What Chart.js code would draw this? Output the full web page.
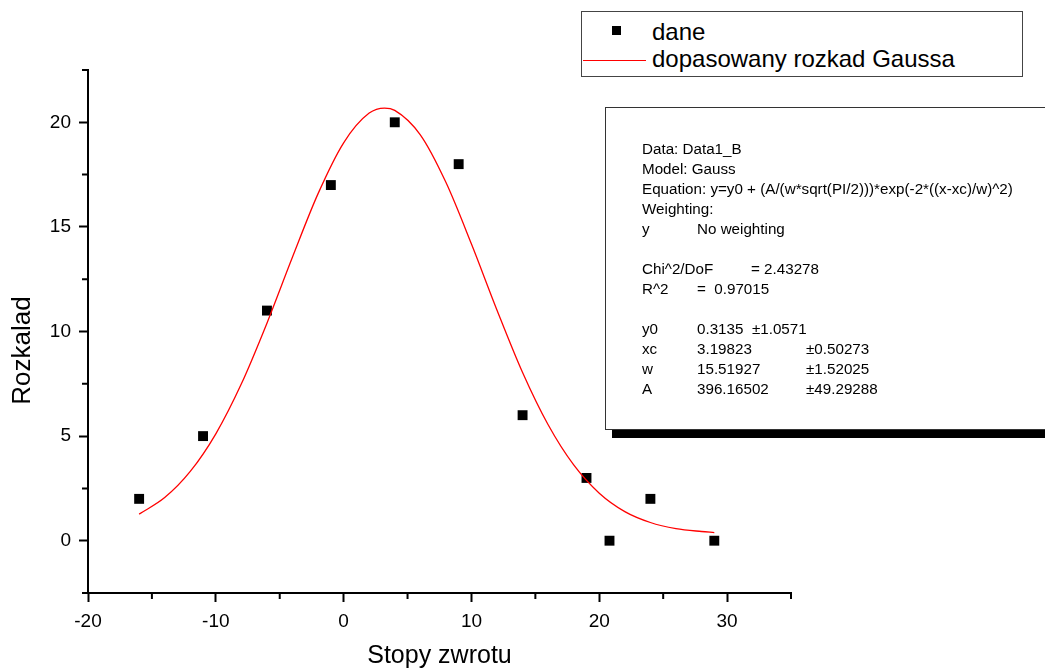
<!DOCTYPE html>
<html lang="pl">
<head>
<meta charset="utf-8">
<title>Rozkalad - dopasowany rozkad Gaussa</title>
<script src="https://cdn.jsdelivr.net/npm/chart.js@4.4.1/dist/chart.umd.min.js"></script>
<style>
    body { margin: 0; background: #fff; overflow: hidden; font-family: "Liberation Sans", Arial, sans-serif; }
    #wrap { position: relative; width: 1045px; height: 671px; overflow: hidden; }
    #wykres { position: absolute; left: 0; top: 0; }

    .legenda { position: absolute; left: 581px; top: 11px; width: 442px; height: 66px; box-sizing: border-box; border: 1.5px solid #444; background: #fff; }
    .legenda .znak { position: absolute; left: 30px; top: 14px; width: 9px; height: 9px; background: #000; }
    .legenda .linia { position: absolute; left: 1px; top: 48px; width: 63px; height: 1.2px; background: #ff0000; }
    .legenda .tekst { position: absolute; left: 70px; font-size: 24px; line-height: 24px; white-space: pre; color: #000; }

    .info { position: absolute; left: 605px; top: 107px; width: 470px; height: 323px; box-sizing: border-box; border: 1px solid #333; background: #fff; box-shadow: 7px 8px 0 #000; }
    .info div { position: absolute; font-size: 15.2px; line-height: 20px; white-space: pre; color: #000; }
</style>
</head>
<body>
<div id="wrap">
    <canvas id="wykres" width="1045" height="671"></canvas>

    <div class="legenda">
        <div class="znak"></div>
        <div class="tekst" style="top:8px">dane</div>
        <div class="linia"></div>
        <div class="tekst" style="top:35px">dopasowany rozkad Gaussa</div>
    </div>

    <div class="info" id="info"></div>
</div>

<script>
// ============================
// DANE
// ============================

const daneX = [-16, -11, -6, -1, 4, 9, 14, 19, 20.8, 24, 29];
const daneY = [2, 5, 11, 17, 20, 18, 6, 3, 0, 2, 0];

// krzywa
const krzywaX = [-16, -14, -12, -10, -8, -6, -4, -2, 0, 2, 3.2, 4, 6, 8, 10, 12, 14, 16, 18, 20, 22, 24, 26, 28, 29];
const krzywaY = [1.27, 2.06, 3.31, 5.11, 7.5, 10.4, 13.56, 16.59, 19.02, 20.44, 20.68, 20.57, 19.4, 17.13, 14.18, 11.02, 8.04, 5.54, 3.62, 2.27, 1.39, 0.87, 0.58, 0.44, 0.39];

const etykietyX = [-20, -10, 0, 10, 20, 30];
const etykietyY = [0, 5, 10, 15, 20];

// tekst z okienka dopasowania: [wiersz, kolumna, tekst]
const opisDopasowania = [
    [0, 0, "Data: Data1_B"],
    [1, 0, "Model: Gauss"],
    [2, 0, "Equation: y=y0 + (A/(w*sqrt(PI/2)))*exp(-2*((x-xc)/w)^2)"],
    [3, 0, "Weighting:"],
    [4, 0, "y"], [4, 1, "No weighting"],
    [6, 0, "Chi^2/DoF"], [6, 2, "= 2.43278"],
    [7, 0, "R^2"], [7, 1, "=  0.97015"],
    [9, 0, "y0"], [9, 1, "0.3135  \u00b11.0571"],
    [10, 0, "xc"], [10, 1, "3.19823"], [10, 3, "\u00b10.50273"],
    [11, 0, "w"], [11, 1, "15.51927"], [11, 3, "\u00b11.52025"],
    [12, 0, "A"], [12, 1, "396.16502"], [12, 3, "\u00b149.29288"]
];

const kolumny = [36, 91, 145, 200];

document.getElementById("info").innerHTML = opisDopasowania.map(([w, k, t]) =>
    `<div style="top:${31 + w * 20}px;left:${kolumny[k]}px">${t}</div>`
).join('');


// ============================
// WYKRES
// ============================

const czcionka = "'Liberation Sans', Arial, sans-serif";

function czyWsrod(v, lista) {
    return lista.some(e => Math.abs(e - v) < 1e-6);
}

// krotkie kreski posrednie na osiach
const drobneKreski = {
    id: "drobneKreski",
    afterDraw(chart) {
        const { ctx, scales: { x, y } } = chart;
        ctx.save();
        ctx.strokeStyle = "#000";
        ctx.lineWidth = 2;
        ctx.beginPath();
        x.ticks.forEach(t => {
            if (czyWsrod(t.value, etykietyX)) return;
            const px = x.getPixelForValue(t.value);
            ctx.moveTo(px, x.top);
            ctx.lineTo(px, x.top + 6);
        });
        y.ticks.forEach(t => {
            if (czyWsrod(t.value, etykietyY)) return;
            const py = y.getPixelForValue(t.value);
            ctx.moveTo(y.right, py);
            ctx.lineTo(y.right - 6, py);
        });
        ctx.stroke();
        ctx.restore();
    }
};

// tytul osi Y - troche nizej niz srodek osi, jak w oryginale
const tytulY = {
    id: "tytulY",
    afterDraw(chart) {
        const { ctx, chartArea } = chart;
        const srodek = (chartArea.top + chartArea.bottom) / 2 + 19;
        ctx.save();
        ctx.translate(23, srodek);
        ctx.rotate(-Math.PI / 2);
        ctx.font = "26px " + czcionka;
        ctx.fillStyle = "#000";
        ctx.textAlign = "center";
        ctx.textBaseline = "middle";
        ctx.fillText("Rozkalad", 0, 0);
        ctx.restore();
    }
};

const ctx = document.getElementById("wykres").getContext("2d");

new Chart(ctx, {
    type: "scatter",
    data: {
        datasets: [
            {
                label: "dopasowany rozkad Gaussa",
                data: krzywaX.map((x, i) => ({ x, y: krzywaY[i] })),
                showLine: true,
                borderColor: "#ff0000",
                borderWidth: 1.3,
                pointRadius: 0,
                cubicInterpolationMode: "monotone",
                order: 0
            },
            {
                label: "dane",
                data: daneX.map((x, i) => ({ x, y: daneY[i] })),
                showLine: false,
                pointStyle: "rect",
                pointRadius: 7,
                pointBackgroundColor: "#000",
                pointBorderColor: "#000",
                pointBorderWidth: 0,
                order: 1
            }
        ]
    },
    options: {
        responsive: false,
        animation: false,
        layout: { padding: { top: 70, right: 254, bottom: 0, left: 0 } },
        plugins: {
            legend: { display: false },
            tooltip: { enabled: false }
        },
        scales: {
            x: {
                type: "linear",
                min: -20,
                max: 35,
                afterFit: s => { s.height = 78; },
                border: { display: true, color: "#000", width: 2 },
                grid: {
                    drawOnChartArea: false,
                    drawTicks: true,
                    tickLength: 9,
                    tickWidth: 2,
                    tickColor: c => czyWsrod(c.tick.value, etykietyX) ? "#000" : "rgba(0,0,0,0)"
                },
                ticks: {
                    stepSize: 5,
                    autoSkip: false,
                    maxRotation: 0,
                    padding: 8,
                    color: "#000",
                    font: { family: czcionka, size: 19 },
                    callback: v => czyWsrod(v, etykietyX) ? String(v) : ""
                },
                title: {
                    display: true,
                    text: "Stopy zwrotu",
                    color: "#000",
                    font: { family: czcionka, size: 25 },
                    padding: { top: 0, bottom: 0 }
                }
            },
            y: {
                type: "linear",
                min: -2.5,
                max: 22.5,
                afterFit: s => { s.width = 88; },
                border: { display: true, color: "#000", width: 2 },
                grid: {
                    drawOnChartArea: false,
                    drawTicks: true,
                    tickLength: 9,
                    tickWidth: 2,
                    tickColor: c => czyWsrod(c.tick.value, etykietyY) ? "#000" : "rgba(0,0,0,0)"
                },
                ticks: {
                    stepSize: 2.5,
                    autoSkip: false,
                    padding: 8,
                    color: "#000",
                    font: { family: czcionka, size: 19 },
                    callback: v => czyWsrod(v, etykietyY) ? String(v) : ""
                },
                title: { display: false }
            }
        }
    },
    plugins: [drobneKreski, tytulY]
});
</script>
</body>
</html>
